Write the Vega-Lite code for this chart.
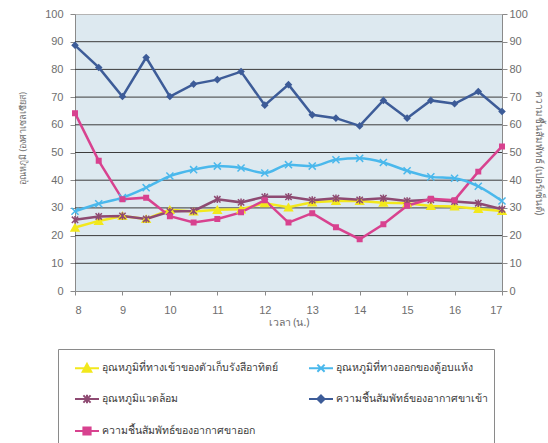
{
  "$schema": "https://vega.github.io/schema/vega-lite/v6.json",
  "autosize": {"type": "none"},
  "padding": {"left": 75, "top": 14, "right": 46, "bottom": 152},
  "width": 427,
  "height": 277,
  "background": "white",
  "config": {
    "view": {"fill": "#dde9f0", "stroke": "#b4b4b4"},
    "axis": {
      "labelFont": "Liberation Sans",
      "labelFontSize": 11,
      "labelColor": "#6e6e6e",
      "titleFont": "Noto Sans",
      "titleFontSize": 10.5,
      "titleFontWeight": "normal",
      "titleColor": "#6e6e6e",
      "domainColor": "#8a8a8a",
      "tickColor": "#8a8a8a",
      "tickSize": 5
    },
    "legend": {
      "labelFont": "Noto Sans",
      "labelFontSize": 10.5,
      "labelColor": "#3a3a3a"
    }
  },
  "data": {
    "values": [
      {"t": 8, "s": "A", "v": 22.9}, {"t": 8.5, "s": "A", "v": 25.3}, {"t": 9, "s": "A", "v": 27.1}, {"t": 9.5, "s": "A", "v": 26.0},
      {"t": 10, "s": "A", "v": 29.3}, {"t": 10.5, "s": "A", "v": 28.7}, {"t": 11, "s": "A", "v": 29.3}, {"t": 11.5, "s": "A", "v": 29.5},
      {"t": 12, "s": "A", "v": 31.7}, {"t": 12.5, "s": "A", "v": 30.2}, {"t": 13, "s": "A", "v": 32.0}, {"t": 13.5, "s": "A", "v": 32.5},
      {"t": 14, "s": "A", "v": 32.5}, {"t": 14.5, "s": "A", "v": 31.9}, {"t": 15, "s": "A", "v": 31.7}, {"t": 15.5, "s": "A", "v": 30.7},
      {"t": 16, "s": "A", "v": 30.5}, {"t": 16.5, "s": "A", "v": 29.6}, {"t": 17, "s": "A", "v": 28.9},

      {"t": 8, "s": "B", "v": 28.8}, {"t": 8.5, "s": "B", "v": 31.5}, {"t": 9, "s": "B", "v": 33.7}, {"t": 9.5, "s": "B", "v": 37.3},
      {"t": 10, "s": "B", "v": 41.5}, {"t": 10.5, "s": "B", "v": 43.8}, {"t": 11, "s": "B", "v": 45.1}, {"t": 11.5, "s": "B", "v": 44.4},
      {"t": 12, "s": "B", "v": 42.6}, {"t": 12.5, "s": "B", "v": 45.6}, {"t": 13, "s": "B", "v": 45.1}, {"t": 13.5, "s": "B", "v": 47.4},
      {"t": 14, "s": "B", "v": 47.9}, {"t": 14.5, "s": "B", "v": 46.4}, {"t": 15, "s": "B", "v": 43.4}, {"t": 15.5, "s": "B", "v": 41.2},
      {"t": 16, "s": "B", "v": 40.7}, {"t": 16.5, "s": "B", "v": 37.8}, {"t": 17, "s": "B", "v": 32.5},

      {"t": 8, "s": "C", "v": 25.7}, {"t": 8.5, "s": "C", "v": 26.9}, {"t": 9, "s": "C", "v": 27.1}, {"t": 9.5, "s": "C", "v": 26.0},
      {"t": 10, "s": "C", "v": 28.7}, {"t": 10.5, "s": "C", "v": 28.9}, {"t": 11, "s": "C", "v": 33.1}, {"t": 11.5, "s": "C", "v": 32.0},
      {"t": 12, "s": "C", "v": 34.0}, {"t": 12.5, "s": "C", "v": 34.0}, {"t": 13, "s": "C", "v": 32.8}, {"t": 13.5, "s": "C", "v": 33.5},
      {"t": 14, "s": "C", "v": 32.9}, {"t": 14.5, "s": "C", "v": 33.5}, {"t": 15, "s": "C", "v": 32.5}, {"t": 15.5, "s": "C", "v": 32.9},
      {"t": 16, "s": "C", "v": 32.3}, {"t": 16.5, "s": "C", "v": 31.7}, {"t": 17, "s": "C", "v": 29.5},

      {"t": 8, "s": "D", "v": 88.7}, {"t": 8.5, "s": "D", "v": 80.7}, {"t": 9, "s": "D", "v": 70.2}, {"t": 9.5, "s": "D", "v": 84.3},
      {"t": 10, "s": "D", "v": 70.2}, {"t": 10.5, "s": "D", "v": 74.7}, {"t": 11, "s": "D", "v": 76.3}, {"t": 11.5, "s": "D", "v": 79.2},
      {"t": 12, "s": "D", "v": 67.1}, {"t": 12.5, "s": "D", "v": 74.5}, {"t": 13, "s": "D", "v": 63.6}, {"t": 13.5, "s": "D", "v": 62.4},
      {"t": 14, "s": "D", "v": 59.6}, {"t": 14.5, "s": "D", "v": 68.8}, {"t": 15, "s": "D", "v": 62.4}, {"t": 15.5, "s": "D", "v": 68.8},
      {"t": 16, "s": "D", "v": 67.6}, {"t": 16.5, "s": "D", "v": 72.0}, {"t": 17, "s": "D", "v": 64.8},

      {"t": 8, "s": "E", "v": 64.2}, {"t": 8.5, "s": "E", "v": 47.0}, {"t": 9, "s": "E", "v": 33.1}, {"t": 9.5, "s": "E", "v": 33.7},
      {"t": 10, "s": "E", "v": 27.0}, {"t": 10.5, "s": "E", "v": 24.7}, {"t": 11, "s": "E", "v": 26.0}, {"t": 11.5, "s": "E", "v": 28.4},
      {"t": 12, "s": "E", "v": 32.8}, {"t": 12.5, "s": "E", "v": 24.7}, {"t": 13, "s": "E", "v": 28.1}, {"t": 13.5, "s": "E", "v": 23.0},
      {"t": 14, "s": "E", "v": 18.7}, {"t": 14.5, "s": "E", "v": 24.1}, {"t": 15, "s": "E", "v": 30.8}, {"t": 15.5, "s": "E", "v": 33.3},
      {"t": 16, "s": "E", "v": 32.8}, {"t": 16.5, "s": "E", "v": 43.1}, {"t": 17, "s": "E", "v": 52.2}
    ]
  },
  "transform": [
    {"lookup": "s", "from": {"data": {"values": [
      {"s": "A", "name": "อุณหภูมิที่ทางเข้าของตัวเก็บรังสีอาทิตย์"},
      {"s": "B", "name": "อุณหภูมิที่ทางออกของตู้อบแห้ง"},
      {"s": "C", "name": "อุณหภูมิแวดล้อม"},
      {"s": "D", "name": "ความชื้นสัมพัทธ์ของอากาศขาเข้า"},
      {"s": "E", "name": "ความชื้นสัมพัทธ์ของอากาศขาออก"}
    ]}, "key": "s", "fields": ["name"]}}
  ],
  "encoding": {
    "x": {
      "field": "t", "type": "quantitative",
      "scale": {"domain": [8, 17], "nice": false},
      "axis": {"values": [8, 9, 10, 11, 12, 13, 14, 15, 16, 17], "grid": false, "title": "เวลา (น.)", "labelPadding": 9, "titlePadding": 2, "tickSize": 4}
    }
  },
  "layer": [
    {
      "mark": {"type": "rule", "color": "#3c3c3c", "strokeWidth": 1},
      "data": {"values": [{"g": 10}, {"g": 20}, {"g": 30}, {"g": 40}, {"g": 50}, {"g": 60}, {"g": 70}, {"g": 80}, {"g": 90}]},
      "transform": [],
      "encoding": {
        "x": {"value": 0},
        "x2": {"value": 427},
        "y": {"field": "g", "type": "quantitative", "scale": {"domain": [0, 100], "nice": false},
          "axis": {"values": [0, 10, 20, 30, 40, 50, 60, 70, 80, 90, 100], "grid": false, "orient": "left", "title": "อุณหภูมิ (องศาเซลเซียส)", "titleFontSize": 9, "titleY": 124, "labelPadding": 7, "titlePadding": 17}}
      }
    },
    {
      "transform": [{"filter": "datum.s !== 'B'"}],
      "mark": {"type": "line", "strokeWidth": 2.5},
      "encoding": {
        "y": {"field": "v", "type": "quantitative", "scale": {"domain": [0, 100], "nice": false}, "axis": null},
        "color": {
          "field": "name", "type": "nominal",
          "scale": {
            "domain": ["อุณหภูมิที่ทางเข้าของตัวเก็บรังสีอาทิตย์", "อุณหภูมิที่ทางออกของตู้อบแห้ง", "อุณหภูมิแวดล้อม", "ความชื้นสัมพัทธ์ของอากาศขาเข้า", "ความชื้นสัมพัทธ์ของอากาศขาออก"],
            "range": ["#f2e81c", "#4ab8ec", "#8e4a72", "#3d5c98", "#d8428f"]
          },
          "legend": {
            "orient": "none", "legendX": -17, "legendY": 335,
            "title": " ", "titleOrient": "left", "titlePadding": 10, "titleFontSize": 6,
            "direction": "horizontal", "columns": 2, "columnPadding": 27, "rowPadding": 10,
            "padding": 6, "strokeColor": "#8a8a8a", "fillColor": "white",
            "symbolSize": 576, "symbolStrokeWidth": 2, "labelOffset": 2, "labelLimit": 400,
            "encode": {
              "symbols": {"update": {
                "shape": {"signal": "datum.index === 0 ? 'M-1,0H1M0,-0.36L0.36,0.3L-0.36,0.3Z' : datum.index === 1 ? 'M-1,0H1M-0.3,-0.3L0.3,0.3M-0.3,0.3L0.3,-0.3' : datum.index === 2 ? 'M-1,0H1M-0.3,-0.3L0.3,0.3M-0.3,0.3L0.3,-0.3M0,-0.36V0.36' : datum.index === 3 ? 'M-1,0H1M0,-0.3L0.3,0L0,0.3L-0.3,0Z' : 'M-1,0H1M-0.3,-0.3H0.3V0.3H-0.3Z'"},
                "fill": {"scale": "color", "field": "value"},
                "stroke": {"scale": "color", "field": "value"},
                "strokeWidth": {"value": 2},
                "opacity": {"value": 1}
              }}
            }
          }
        },
        "order": {"field": "t"}
      }
    },
    {
      "transform": [{"filter": "datum.s === 'B'"}],
      "mark": {"type": "line", "strokeWidth": 2.5, "interpolate": "monotone"},
      "encoding": {
        "y": {"field": "v", "type": "quantitative", "scale": {"domain": [0, 100], "nice": false}, "axis": null},
        "color": {"field": "name", "type": "nominal"}
      }
    },
    {
      "mark": {"type": "point", "filled": true, "opacity": 1, "strokeWidth": 1.5},
      "encoding": {
        "y": {"field": "v", "type": "quantitative", "scale": {"domain": [0, 100], "nice": false}, "axis": null},
        "color": {"field": "name", "type": "nominal"},
        "stroke": {"field": "s", "type": "nominal", "legend": null,
          "scale": {"domain": ["A", "B", "C", "D", "E"], "range": ["#f2e81c", "#4ab8ec", "#8e4a72", "#3d5c98", "#d8428f"]}},
        "shape": {"field": "s", "type": "nominal", "legend": null,
          "scale": {"domain": ["A", "B", "C", "D", "E"], "range": ["triangle-up", "M-1,-1L1,1M-1,1L1,-1", "M-1,-1L1,1M-1,1L1,-1M0,-1.2V1.2", "diamond", "square"]}},
        "size": {"field": "s", "type": "nominal", "legend": null,
          "scale": {"domain": ["A", "B", "C", "D", "E"], "range": [60, 20, 20, 55, 70]}}
      }
    },
    {
      "mark": {"type": "rule", "opacity": 0},
      "data": {"values": [{"g": 0}, {"g": 100}]},
      "transform": [],
      "encoding": {
        "y": {"field": "g", "type": "quantitative", "scale": {"domain": [0, 100], "nice": false},
          "axis": {"values": [0, 10, 20, 30, 40, 50, 60, 70, 80, 90, 100], "grid": false, "orient": "right", "title": "ความชื้นสัมพัทธ์ (เปอร์เซ็นต์)", "titleFontSize": 10, "titleAngle": 90, "labelPadding": 2, "titlePadding": 6}}
      }
    }
  ],
  "resolve": {"scale": {"y": "shared"}, "axis": {"y": "independent"}}
}
